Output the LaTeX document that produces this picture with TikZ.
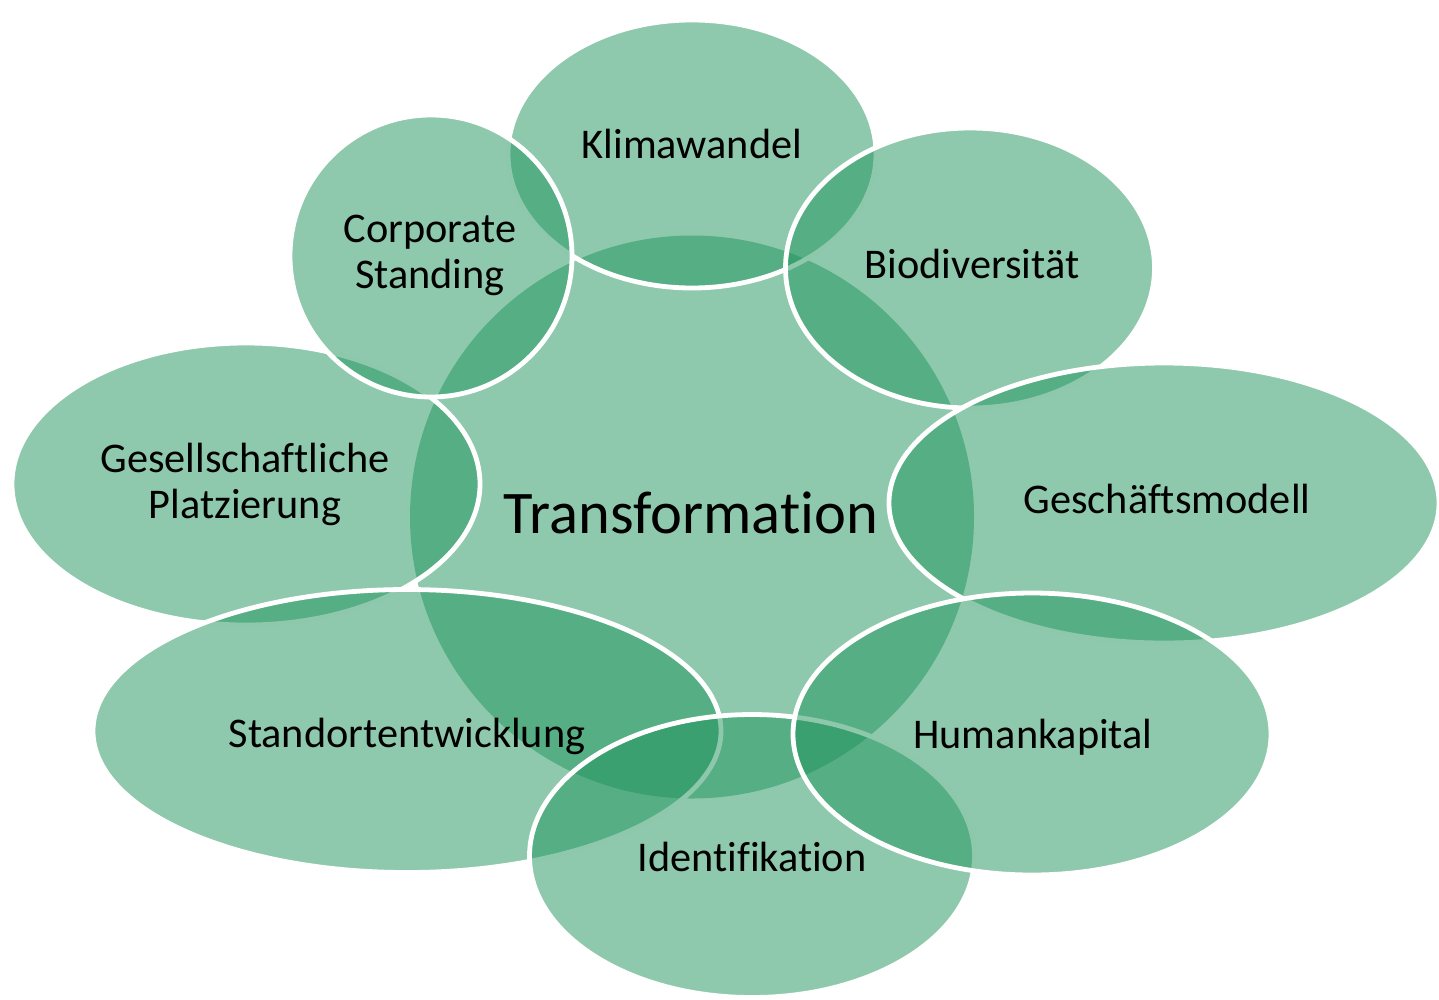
\documentclass[tikz,border=0pt]{standalone}
\usepackage{fontspec}
\setmainfont{Carlito}[Ligatures=NoCommon]
\usetikzlibrary{shapes.geometric}
\definecolor{venngreen}{RGB}{31,147,91}
\tikzset{
  venn/.style={ellipse, inner sep=0pt, outer sep=0pt, fill=venngreen, fill opacity=0.5, draw=white, line width=4.8pt},
  venncore/.style={ellipse, inner sep=0pt, outer sep=0pt, fill=venngreen, fill opacity=0.5},
  lbl/.style={anchor=base, align=center, text=black, font=\fontsize{42.3}{46}\selectfont, inner sep=0pt},
  biglbl/.style={anchor=base, text=black, font=\fontsize{60.5}{66}\selectfont, inner sep=0pt}
}
\begin{document}
\begin{tikzpicture}[x=1pt,y=-1pt]
\useasboundingbox (0,0) rectangle (1439,999);
% centre
\node[venncore, minimum width=564pt, minimum height=563pt] (core) at (692,517) {};
% satellites in drawing order
\node[venn, minimum width=368pt, minimum height=268pt] (klima) at (692,154) {};
\node[venn, minimum width=369pt, minimum height=280pt] (bio) at (970,268) {};
\node[venn, minimum width=550pt, minimum height=280pt] (gesch) at (1164,503) {};
\node[venn, minimum width=468pt, minimum height=282pt] (gesell) at (246,484) {};
\node[venn, minimum width=628pt, minimum height=283pt] (stand) at (407,731) {};
\node[venn, minimum width=445pt, minimum height=283pt] (ident) at (752,856) {};
\node[venn, minimum width=478pt, minimum height=282pt] (human) at (1032,734) {};
\node[venn, minimum width=282pt, minimum height=282pt] (corp) at (431,256) {};
% labels
\node[biglbl] (tcore) at (691,533) {Transformation};
\node[lbl] (tklima) at (692,158) {Klimawandel};
\node[lbl] (tbio) at (972,278) {Biodiversität};
\node[lbl] (tgesch) at (1167,513) {Geschäftsmodell};
\node[lbl] (tgesell) at (245,518) {Gesellschaftliche\\Platzierung};
\node[lbl] (tstand) at (407,747) {Standortentwicklung};
\node[lbl] (tident) at (752,871) {Identifikation};
\node[lbl] (thuman) at (1033,748) {Humankapital};
\node[lbl] (tcorp) at (430,288) {Corporate\\Standing};
\end{tikzpicture}
\end{document}
